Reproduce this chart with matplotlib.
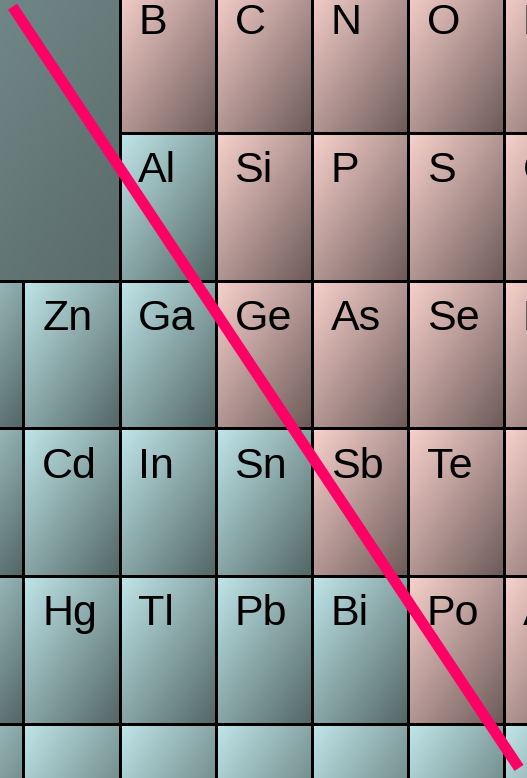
import numpy as np
import matplotlib
matplotlib.use("Agg")
import matplotlib.pyplot as plt
from matplotlib.colors import to_rgb
from matplotlib.patches import Rectangle

plt.rcParams['font.family'] = ['Liberation Sans', 'DejaVu Sans']

# periodic table section, groups 11-17, periods 2-7
groups = [11, 12, 13, 14, 15, 16, 17]
periods = [2, 3, 4, 5, 6, 7]
symbols = [
    ['', '', 'B', 'C', 'N', 'O', 'F'],
    ['', '', 'Al', 'Si', 'P', 'S', 'Cl'],
    ['', 'Zn', 'Ga', 'Ge', 'As', 'Se', 'Br'],
    ['', 'Cd', 'In', 'Sn', 'Sb', 'Te', 'I'],
    ['', 'Hg', 'Tl', 'Pb', 'Bi', 'Po', 'At'],
    ['', '', '', '', '', '', ''],
]
# n = non-metal side (pink), m = metal side (teal), - = empty block
kinds = [
    ['-', '-', 'n', 'n', 'n', 'n', 'n'],
    ['-', '-', 'm', 'n', 'n', 'n', 'n'],
    ['m', 'm', 'm', 'n', 'n', 'n', 'n'],
    ['m', 'm', 'm', 'm', 'n', 'n', 'n'],
    ['m', 'm', 'm', 'm', 'm', 'n', 'n'],
    ['m', 'm', 'm', 'm', 'm', 'm', 'm'],
]
# staircase line (group, period)
line_g = [11.886, 17.156]
line_p = [2.149, 7.296]

shades = {
    'n': ('#f9d2cd', '#6c5a58'),
    'm': ('#c0e6e9', '#526665'),
    '-': ('#778f8f', '#596a69'),
}


def gradient(light, dark, n=64):
    u = np.linspace(0, 1, n)
    t = (u[None, :] + u[:, None]) / 2
    a, b = np.array(to_rgb(light)), np.array(to_rgb(dark))
    return a + (b - a) * t[..., None]


fig = plt.figure(figsize=(5.27, 7.78), dpi=100)
ax = fig.add_axes([0, 0, 1, 1])

# empty block above the transition metals, one shape
gap_g = [g for r, row in enumerate(kinds) for g, k in zip(groups, row) if k == '-']
gap_p = [periods[r] for r, row in enumerate(kinds) for k in row if k == '-']
x0, x1 = min(gap_g), max(gap_g) + 1
y0, y1 = min(gap_p), max(gap_p) + 1
ax.imshow(gradient(*shades['-']), extent=(x0, x1, y1, y0), aspect='auto',
          interpolation='bilinear', zorder=1)
ax.add_patch(Rectangle((x0, y0), x1 - x0, y1 - y0, fill=False,
                       ec='black', lw=2, zorder=3))

for r, p in enumerate(periods):
    for c, g in enumerate(groups):
        k = kinds[r][c]
        if k == '-':
            continue
        ax.imshow(gradient(*shades[k]), extent=(g, g + 1, p + 1, p),
                  aspect='auto', interpolation='bilinear', zorder=1)
        ax.add_patch(Rectangle((g, p), 1, 1, fill=False, ec='black',
                               lw=2, zorder=3))
        if symbols[r][c]:
            ax.text(g + 0.195, p + 0.332, symbols[r][c], fontsize=31,
                    color='black', ha='left', va='baseline', zorder=4)

ax.plot(line_g, line_p, color='#ff0066', lw=7.8, solid_capstyle='butt',
        zorder=5)

ax.set_xlim(11.7555, 17.239)
ax.set_ylim(7.3638, 2.1034)
ax.set_axis_off()

fig.savefig('out.png', dpi=100)
